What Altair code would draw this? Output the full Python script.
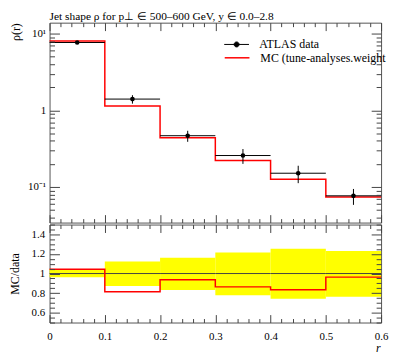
import altair as alt
import pandas as pd

# ---- data ----
bin_lo = [0.0, 0.1, 0.2, 0.3, 0.4, 0.5]
bin_hi = [0.1, 0.2, 0.3, 0.4, 0.5, 0.6]
bin_mid = [0.05, 0.15, 0.25, 0.35, 0.45, 0.55]
data_val = [7.66, 1.40, 0.466, 0.257, 0.151, 0.0766]
band_lo = [0.962, 0.872, 0.833, 0.778, 0.742, 0.762]   # relative data uncertainty (lower)
band_hi = [1.046, 1.124, 1.160, 1.215, 1.252, 1.229]   # relative data uncertainty (upper)
mc_val = [8.0, 1.14, 0.437, 0.222, 0.126, 0.0738]

data_label = "ATLAS data"
mc_label = "MC (tune-analyses.weight"
title_text = "Jet shape ρ for p⊥ ∈ 500–600 GeV, y ∈ 0.0–2.8"

x_ticks = [0.0, 0.02, 0.04, 0.06, 0.08, 0.1, 0.12, 0.14, 0.16, 0.18, 0.2,
           0.22, 0.24, 0.26, 0.28, 0.3, 0.32, 0.34, 0.36, 0.38, 0.4,
           0.42, 0.44, 0.46, 0.48, 0.5, 0.52, 0.54, 0.56, 0.58, 0.6]
x_labels = [0.0, 0.1, 0.2, 0.3, 0.4, 0.5, 0.6]
y_ticks_top = [0.04, 0.05, 0.06, 0.07, 0.08, 0.09, 0.1, 0.2, 0.3, 0.4, 0.5,
               0.6, 0.7, 0.8, 0.9, 1, 2, 3, 4, 5, 6, 7, 8, 9, 10]
y_labels_top = [0.1, 1, 10]
r_ticks = [0.5, 0.55, 0.6, 0.65, 0.7, 0.75, 0.8, 0.85, 0.9, 0.95, 1.0,
           1.05, 1.1, 1.15, 1.2, 1.25, 1.3, 1.35, 1.4, 1.45, 1.5]
r_labels = [0.6, 0.8, 1.0, 1.2, 1.4]

FONT = "Liberation Serif"
W, H, H2 = 335, 202, 99
TICK = "#444"

df = pd.DataFrame({
    "lo": bin_lo, "hi": bin_hi, "mid": bin_mid, "val": data_val,
    "elo": [v * b for v, b in zip(data_val, band_lo)],
    "ehi": [v * b for v, b in zip(data_val, band_hi)],
    "blo": band_lo, "bhi": band_hi,
    "one": [1.0] * 6,
    "series": [data_label] * 6,
})
mc_df = pd.DataFrame({
    "x": bin_lo + [bin_hi[-1]],
    "y": mc_val + [mc_val[-1]],
    "r": [m / d for m, d in zip(mc_val, data_val)] + [mc_val[-1] / data_val[-1]],
    "series": [mc_label] * 7,
})

x_minor = "abs(datum.value*10 - round(datum.value*10)) > 0.001"
y_minor_log = "abs(log(datum.value)/LN10 - round(log(datum.value)/LN10)) > 0.001"
r_minor = "abs(datum.value*5 - round(datum.value*5)) > 0.001"


def tick_axis(orient, offset, values, minor_test, major, minor):
    # ticks drawn inward from the frame: axis of opposite orientation moved onto the edge;
    # minor ticks are shortened with a dash pattern
    return alt.Axis(orient=orient, offset=offset, values=values, labels=False,
                    domain=False, grid=False, title=None, tickColor=TICK, tickWidth=1,
                    tickSize=major, zindex=1,
                    tickDash={"condition": {"test": minor_test, "value": [minor, 60]},
                              "value": []})


xs = alt.Scale(domain=[0, 0.6], nice=False, zero=False)
ys = alt.Scale(type="log", domain=[0.0343, 13.9], nice=False)
rs = alt.Scale(domain=[0.5, 1.5], nice=False, zero=False)

# ---------------- top panel ----------------
mc_line = alt.Chart(mc_df).mark_line(interpolate="step-after", strokeWidth=1.5).encode(
    x=alt.X("x:Q", scale=xs, axis=tick_axis("top", -H, x_ticks, x_minor, 8, 4)),
    y=alt.Y("y:Q", scale=ys, axis=tick_axis("right", -W, y_ticks_top, y_minor_log, 10, 5)),
    stroke=alt.Stroke("series:N", scale=alt.Scale(domain=[mc_label], range=["#ff0000"]),
                      legend=alt.Legend(orient="none", legendX=176, legendY=22, title=None,
                                        symbolType="stroke", symbolSize=625,
                                        symbolStrokeWidth=1.5, labelFont=FONT,
                                        labelFontSize=12, labelOffset=10, padding=0,
                                        labelColor="black")),
)
hbars = alt.Chart(df).mark_rule(color="black", strokeWidth=1).encode(
    x=alt.X("lo:Q", scale=xs, axis=tick_axis("bottom", -H, x_ticks, x_minor, 8, 4)),
    x2="hi:Q",
    y=alt.Y("val:Q", scale=ys, axis=tick_axis("left", -W, y_ticks_top, y_minor_log, 10, 5)),
)
vbars = alt.Chart(df).mark_rule(color="black", strokeWidth=1).encode(
    x=alt.X("mid:Q", scale=xs, axis=None),
    y=alt.Y("elo:Q", scale=ys, axis=alt.Axis(
        orient="left", values=y_labels_top, ticks=False, tickSize=0, domain=False, grid=False,
        labelPadding=4, labelFont=FONT, labelFontSize=11, labelColor="black",
        labelExpr="datum.value == 10 ? '10¹' : (datum.value == 1 ? '1' : '10⁻¹')",
        title="ρ(r)", titleFont=FONT, titleFontSize=12, titleFontWeight="normal",
        titleColor="black", titleX=-34, titleY=0, titleAlign="right", titleBaseline="middle",
        titleAngle=270)),
    y2="ehi:Q",
)
points = alt.Chart(df).mark_point(filled=True, size=22, opacity=1).encode(
    x=alt.X("mid:Q", scale=xs, axis=None),
    y=alt.Y("val:Q", scale=ys, axis=None),
    fill=alt.Fill("series:N", scale=alt.Scale(domain=[data_label], range=["black"]),
                  legend=alt.Legend(orient="none", legendX=176, legendY=9, title=None,
                                    symbolType="M-1,0H1M-0.2,0A0.2,0.2,0,1,0,0.2,0A0.2,0.2,0,1,0,-0.2,0Z",
                                    symbolSize=625, symbolStrokeColor="black",
                                    symbolStrokeWidth=1, labelFont=FONT, labelFontSize=12,
                                    labelOffset=10, padding=0, labelColor="black")),
)
top = alt.layer(mc_line, hbars, vbars, points).resolve_axis(
    x="independent", y="independent"
).properties(
    width=W, height=H,
    title=alt.TitleParams(title_text, anchor="start", frame="group", font=FONT,
                          fontSize=11.5, fontWeight="normal", color="black", offset=0),
)

# ---------------- ratio panel ----------------
band = alt.Chart(df).mark_rect(color="#ffff00").encode(
    x=alt.X("lo:Q", scale=xs, axis=tick_axis("top", -H2, x_ticks, x_minor, 8, 4)),
    x2="hi:Q",
    y=alt.Y("blo:Q", scale=rs, axis=tick_axis("right", -W, r_ticks, r_minor, 10, 5)),
    y2="bhi:Q",
)
ones = alt.Chart(df).mark_rule(color="#444", strokeWidth=1).encode(
    x=alt.X("lo:Q", scale=xs, axis=tick_axis("bottom", -H2, x_ticks, x_minor, 8, 4)),
    x2="hi:Q",
    y=alt.Y("one:Q", scale=rs, axis=tick_axis("left", -W, r_ticks, r_minor, 10, 5)),
)
mc_ratio = alt.Chart(mc_df).mark_line(interpolate="step-after", strokeWidth=1.5,
                                      color="#ff0000").encode(
    x=alt.X("x:Q", scale=xs, axis=alt.Axis(
        orient="bottom", values=x_labels, ticks=False, tickSize=0, domain=False, grid=False,
        labelPadding=8, labelFont=FONT, labelFontSize=11, labelColor="black",
        format="~g", labelFlush=False, labelOverlap=False,
        title="r", titleFont=FONT, titleFontSize=12, titleFontStyle="italic",
        titleFontWeight="normal", titleColor="black", titleX=W - 1, titleY=20,
        titleAlign="right", titleBaseline="top")),
    y=alt.Y("r:Q", scale=rs, axis=alt.Axis(
        orient="left", values=r_labels, ticks=False, tickSize=0, domain=False, grid=False,
        labelPadding=5, labelFont=FONT, labelFontSize=11, labelColor="black",
        format="~g", labelFlush=False, labelOverlap=False,
        title="MC/data", titleFont=FONT, titleFontSize=12, titleFontWeight="normal",
        titleColor="black", titleX=-35, titleY=H2 / 2, titleAlign="center",
        titleBaseline="middle", titleAngle=270)),
)
bottom = alt.layer(band, ones, mc_ratio).resolve_axis(
    x="independent", y="independent"
).properties(width=W, height=H2)

chart = alt.vconcat(top, bottom, spacing=0).properties(
    padding={"left": 0, "top": 0, "right": 0, "bottom": 0}
).configure_view(stroke="#555", strokeWidth=1).configure_concat(spacing=0)

chart.save("out.html", embed_options={"renderer": "svg", "actions": False})
